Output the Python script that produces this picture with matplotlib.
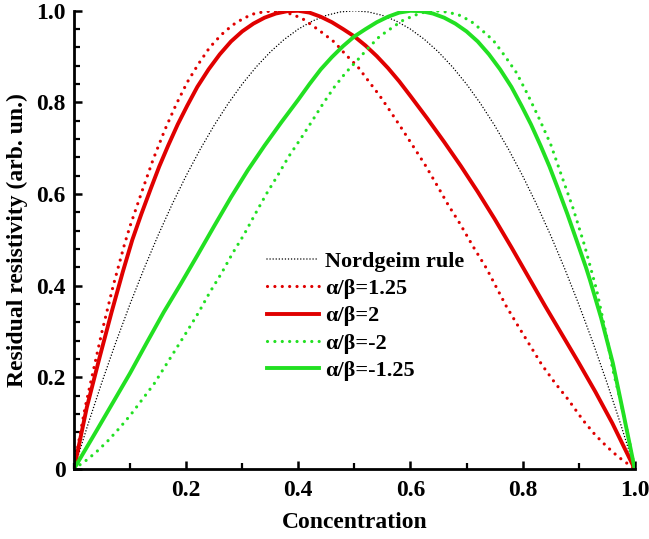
import matplotlib
matplotlib.use("Agg")
import matplotlib.pyplot as plt
from matplotlib.ticker import MultipleLocator, FixedLocator

plt.rcParams["font.family"] = ["Liberation Serif", "DejaVu Serif"]
plt.rcParams["font.weight"] = "bold"

# Nordheim rule
c_nord = [0, 0.025, 0.05, 0.075, 0.1, 0.125, 0.15, 0.175, 0.2, 0.225, 0.25,
          0.275, 0.3, 0.325, 0.35, 0.375, 0.4, 0.425, 0.45, 0.475, 0.5,
          0.525, 0.55, 0.575, 0.6, 0.625, 0.65, 0.675, 0.7, 0.725, 0.75,
          0.775, 0.8, 0.825, 0.85, 0.875, 0.9, 0.925, 0.95, 0.975, 1.0]
r_nord = [0, 0.0975, 0.19, 0.2775, 0.36, 0.4375, 0.51, 0.5775, 0.64, 0.6975,
          0.75, 0.7975, 0.84, 0.8775, 0.91, 0.9375, 0.96, 0.9775, 0.99,
          0.9975, 1.0, 0.9975, 0.99, 0.9775, 0.96, 0.9375, 0.91, 0.8775,
          0.84, 0.7975, 0.75, 0.6975, 0.64, 0.5775, 0.51, 0.4375, 0.36,
          0.2775, 0.19, 0.0975, 0]

# alpha/beta = 1.25
c_r125 = [0, 0.01, 0.02, 0.03, 0.04, 0.05, 0.06, 0.07, 0.08, 0.09, 0.10,
          0.121, 0.141, 0.162, 0.182, 0.202, 0.222, 0.242, 0.263, 0.283,
          0.303, 0.324, 0.355, 0.382, 0.406, 0.424, 0.444, 0.465, 0.484,
          0.506, 0.525, 0.545, 0.565, 0.585, 0.605, 0.626, 0.647, 0.667,
          0.688, 0.712, 0.736, 0.753, 0.771, 0.792, 0.813, 0.834, 0.857,
          0.881, 0.908, 0.929, 0.950, 0.970, 1.0]
r_r125 = [0, 0.07, 0.135, 0.19, 0.245, 0.30, 0.35, 0.40, 0.445, 0.49, 0.53,
          0.605, 0.675, 0.740, 0.795, 0.844, 0.884, 0.920, 0.948, 0.969,
          0.984, 0.995, 1.0, 0.995, 0.984, 0.969, 0.951, 0.931, 0.905,
          0.878, 0.847, 0.815, 0.779, 0.742, 0.704, 0.664, 0.620, 0.577,
          0.536, 0.485, 0.437, 0.397, 0.355, 0.312, 0.270, 0.228, 0.189,
          0.152, 0.106, 0.075, 0.049, 0.027, 0]

# alpha/beta = 2
c_r2 = [0, 0.023, 0.046, 0.067, 0.087, 0.104, 0.12, 0.137, 0.152, 0.168,
        0.185, 0.202, 0.22, 0.24, 0.26, 0.28, 0.30, 0.32, 0.34, 0.36, 0.38,
        0.40, 0.42, 0.44, 0.46, 0.48, 0.50, 0.52, 0.54, 0.56, 0.58, 0.60,
        0.63, 0.66, 0.69, 0.72, 0.75, 0.78, 0.81, 0.84, 0.87, 0.90, 0.93,
        0.96, 1.0]
r_r2 = [0, 0.135, 0.245, 0.342, 0.43, 0.50, 0.556, 0.612, 0.66, 0.706,
        0.752, 0.793, 0.834, 0.872, 0.905, 0.933, 0.955, 0.972, 0.985, 0.994,
        0.999, 1.0, 0.996, 0.987, 0.975, 0.96, 0.944, 0.924, 0.901, 0.875,
        0.846, 0.814, 0.765, 0.714, 0.661, 0.605, 0.546, 0.484, 0.42, 0.356,
        0.294, 0.232, 0.168, 0.100, 0]

# alpha/beta = -2
c_g2 = [0, 0.020, 0.039, 0.061, 0.081, 0.101, 0.122, 0.143, 0.162, 0.182,
        0.202, 0.222, 0.242, 0.263, 0.283, 0.303, 0.323, 0.343, 0.364,
        0.383, 0.405, 0.425, 0.444, 0.464, 0.484, 0.506, 0.525, 0.545,
        0.566, 0.585, 0.607, 0.625, 0.645, 0.667, 0.688, 0.708, 0.728,
        0.748, 0.768, 0.789, 0.808, 0.828, 0.850, 0.869, 0.890, 0.910,
        0.932, 0.950, 0.961, 0.973, 0.991, 1.0]
r_g2 = [0, 0.017, 0.036, 0.062, 0.089, 0.118, 0.152, 0.186, 0.223, 0.262,
        0.301, 0.341, 0.385, 0.427, 0.471, 0.511, 0.556, 0.600, 0.642,
        0.682, 0.722, 0.760, 0.797, 0.833, 0.864, 0.893, 0.919, 0.944,
        0.962, 0.978, 0.990, 0.997, 1.0, 0.997, 0.990, 0.977, 0.957,
        0.935, 0.902, 0.865, 0.820, 0.769, 0.709, 0.642, 0.569, 0.490,
        0.391, 0.288, 0.216, 0.157, 0.057, 0]

# alpha/beta = -1.25
c_g125 = [0, 0.04, 0.07, 0.10, 0.13, 0.16, 0.19, 0.22, 0.25, 0.28, 0.31,
          0.34, 0.37, 0.40, 0.42, 0.44, 0.46, 0.48, 0.50, 0.52, 0.54, 0.56,
          0.58, 0.60, 0.62, 0.64, 0.66, 0.68, 0.70, 0.72, 0.74, 0.76, 0.78,
          0.798, 0.815, 0.832, 0.848, 0.863, 0.88, 0.896, 0.913, 0.92,
          0.94, 0.961, 0.98, 1.0]
r_g125 = [0, 0.083, 0.146, 0.209, 0.276, 0.342, 0.403, 0.466, 0.53, 0.593,
          0.652, 0.706, 0.757, 0.806, 0.840, 0.872, 0.899, 0.923, 0.944, 0.96,
          0.975, 0.987, 0.996, 1.0, 0.999, 0.994, 0.985, 0.972, 0.955, 0.933,
          0.905, 0.872, 0.834, 0.793, 0.752, 0.706, 0.66, 0.612, 0.556, 0.50,
          0.44, 0.413, 0.33, 0.231, 0.12, 0]

labels = ["Nordgeim rule", "\u03b1/\u03b2=1.25", "\u03b1/\u03b2=2",
          "\u03b1/\u03b2=-2", "\u03b1/\u03b2=-1.25"]
x_ticks = [0.2, 0.4, 0.6, 0.8, 1.0]
x_ticklabels = ["0.2", "0.4", "0.6", "0.8", "1.0"]
y_ticks = [0, 0.2, 0.4, 0.6, 0.8, 1.0]
y_ticklabels = ["0", "0.2", "0.4", "0.6", "0.8", "1.0"]

RED = "#e00000"
GREEN = "#22e022"

fig = plt.figure(figsize=(6.49, 5.39), dpi=100)
ax = fig.add_axes([0.114, 0.13, 0.864, 0.85])

ax.plot(c_nord, r_nord, color="black", lw=1.1, ls=(0, (0.01, 2.0)),
        dash_capstyle="round", label=labels[0])
ax.plot(c_r125, r_r125, color=RED, lw=2.3, ls=(0, (0.01, 2.3)),
        dash_capstyle="round", label=labels[1])
ax.plot(c_r2, r_r2, color=RED, lw=2.8, label=labels[2])
ax.plot(c_g2, r_g2, color=GREEN, lw=2.3, ls=(0, (0.01, 2.3)),
        dash_capstyle="round", label=labels[3])
ax.plot(c_g125, r_g125, color=GREEN, lw=2.8, label=labels[4])

ax.set_xlim(0, 1.0)
ax.set_ylim(0, 1.0)
ax.spines["top"].set_visible(False)
ax.spines["right"].set_visible(False)
for s in ("left", "bottom"):
    ax.spines[s].set_linewidth(2.0)

ax.xaxis.set_major_locator(FixedLocator(x_ticks))
ax.set_xticklabels(x_ticklabels)
ax.xaxis.set_minor_locator(MultipleLocator(0.1))
ax.yaxis.set_major_locator(FixedLocator(y_ticks))
ax.set_yticklabels(y_ticklabels)
ax.yaxis.set_minor_locator(MultipleLocator(0.04))

ax.tick_params(which="major", direction="in", length=6, width=1.8,
               labelsize=17, pad=8)
ax.tick_params(which="minor", direction="in", length=4, width=1.6)
ax.tick_params(axis="y", which="major", pad=6)
for lab in ax.get_xticklabels() + ax.get_yticklabels():
    lab.set_fontweight("bold")

ax.set_xlabel("Concentration", fontsize=17, fontweight="bold", labelpad=8)
ax.set_ylabel("Residual resistivity (arb. un.)", fontsize=17,
              fontweight="bold", labelpad=6)

leg = ax.legend(loc="upper left", bbox_to_anchor=(0.345, 0.475),
                frameon=False, fontsize=16, handlelength=2.3,
                handletextpad=0.3, labelspacing=0.3, borderpad=0,
                borderaxespad=0)
for t in leg.get_texts():
    t.set_fontweight("bold")

fig.savefig("out.png", dpi=100)
